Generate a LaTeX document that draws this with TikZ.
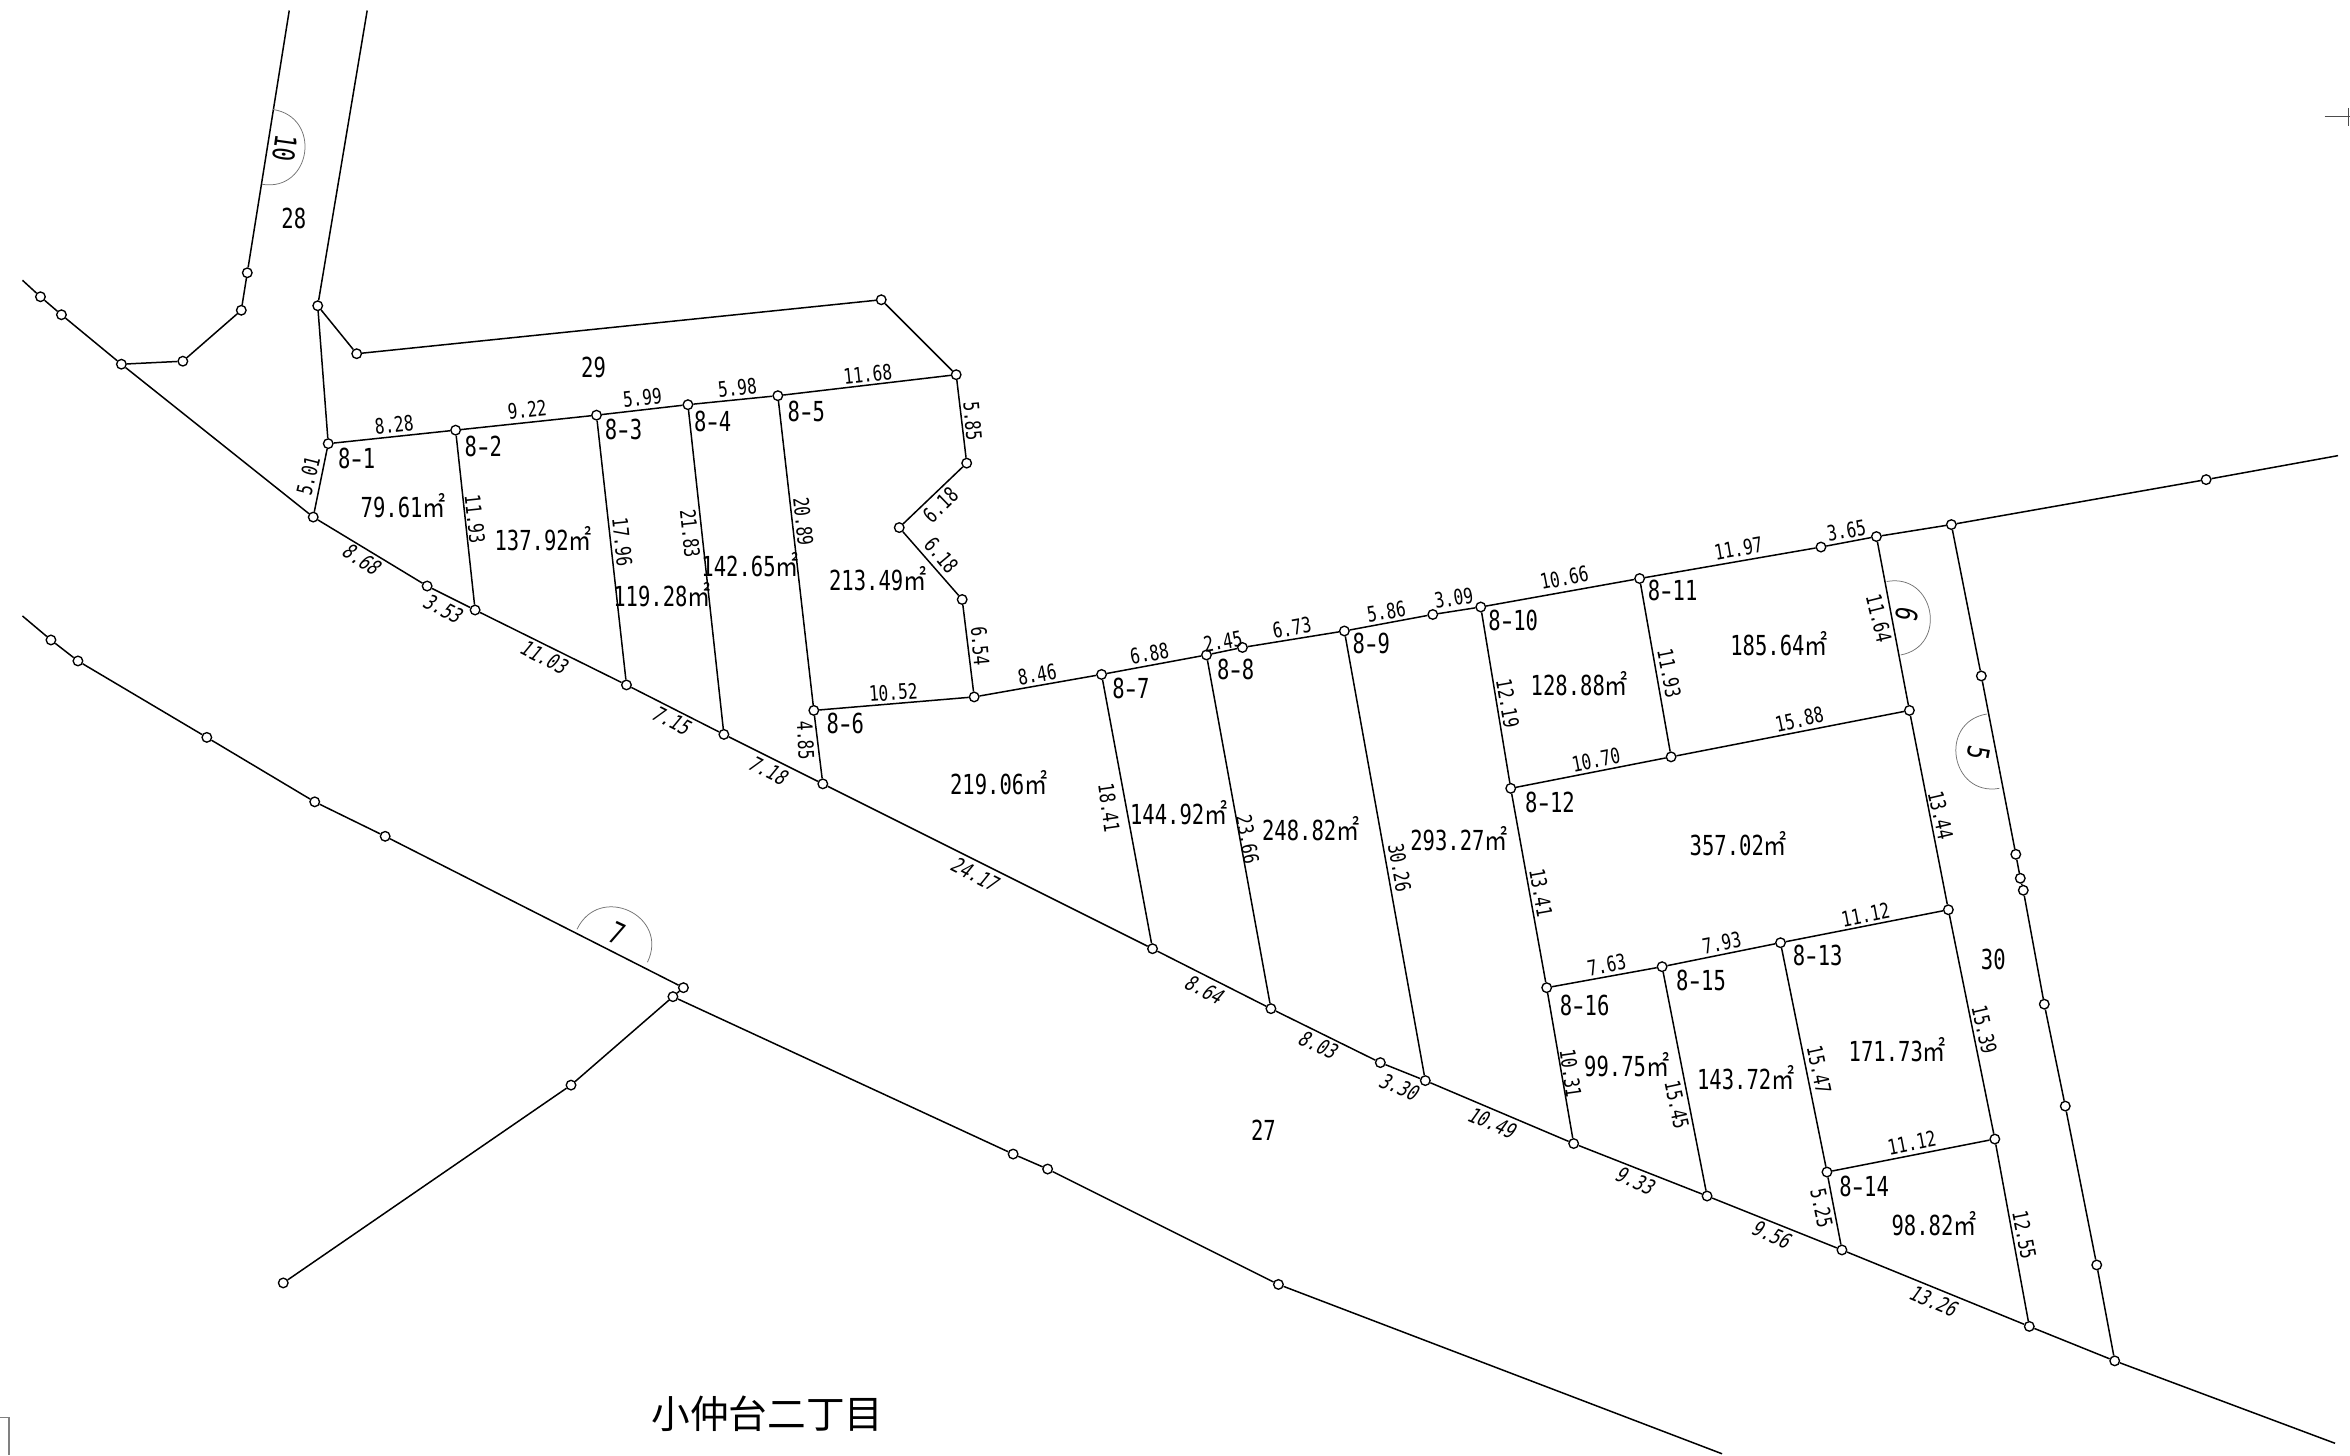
\documentclass[tikz,border=0pt]{standalone}
\usepackage{fontspec}
\setmainfont{DejaVu Sans Mono}
\newfontfamily\dimf[FakeStretch=0.76]{DejaVu Sans Mono}
\newfontfamily\dims[FakeStretch=0.76,FakeSlant=0.22]{DejaVu Sans Mono}
\newfontfamily\areaf[FakeStretch=0.745]{DejaVu Sans Mono}
\newfontfamily\cjkm[FakeStretch=0.84]{Noto Sans CJK JP}
\newfontfamily\cjkt{Noto Sans CJK JP}
\newcounter{lbl}
\newcommand{\pnt}[3]{\node[pnode] (#1) at (#2,#3) {};}
\newcommand{\dlab}[4]{\stepcounter{lbl}\node[dimlabel,rotate=#3] (d\thelbl) at (#1,#2) {#4};}
\newcommand{\slab}[4]{\stepcounter{lbl}\node[slantlabel,rotate=#3] (d\thelbl) at (#1,#2) {#4};}
\newcommand{\alab}[3]{\stepcounter{lbl}\node[arealabel] (d\thelbl) at (#1,#2) {#3{\cjkm\fontsize{9.2}{10}\selectfont ㎡}};}
\newcommand{\llab}[3]{\stepcounter{lbl}\node[lotlabel] (d\thelbl) at (#1,#2) {#3};}
\newcommand{\lotn}[4]{\stepcounter{lbl}\node[lotlabel] (d\thelbl) at (#1,#2) {#3\hspace{-1pt}\scalebox{1.5}[1]{-}\hspace{-1pt}#4};}
\tikzset{
  pnode/.style={circle,draw=black,fill=white,line width=0.45pt,inner sep=0pt,minimum size=3.2pt},
  bound/.style={line width=0.5pt,black},
  thinarc/.style={line width=0.25pt,black!55},
  dimlabel/.style={inner sep=0pt,font=\dimf\fontsize{7.1}{8}\selectfont},
  slantlabel/.style={inner sep=0pt,font=\dims\fontsize{7.1}{8}\selectfont},
  arealabel/.style={inner sep=0pt,font=\areaf\fontsize{9.2}{10}\selectfont},
  lotlabel/.style={inner sep=0pt,font=\areaf\fontsize{9.2}{10}\selectfont},
  roadno/.style={inner sep=0pt,font=\areaf\fontsize{10}{11}\selectfont},
  title/.style={inner sep=0pt,font=\cjkt\fontsize{12.9}{14}\selectfont}
}
\begin{document}
\begin{tikzpicture}[x=0.5pt,y=-0.5pt]
\useasboundingbox (0,0) rectangle (1568,971);
% free ends
\coordinate (ftl) at (193,7);
\coordinate (ftr) at (245,7);
\coordinate (fa) at (15,187);
\coordinate (fb) at (15,411);
\coordinate (fe) at (1558,963);
\coordinate (ff) at (1149,970);
\coordinate (fg) at (1560,304);
% road corners
\pnt{a1}{165}{182}\pnt{a2}{161}{207}\pnt{a3}{122}{241}\pnt{a4}{81}{243}
\pnt{b1}{212}{204}\pnt{b2}{238}{236}\pnt{b3}{588}{200}
\pnt{c1}{27}{198}\pnt{c2}{41}{210}
% lot top line
\pnt{t1}{219}{296}\pnt{t2}{304}{287}\pnt{t3}{398}{277}\pnt{t4}{459}{270}\pnt{t5}{519}{264}\pnt{t6}{638}{250}
\pnt{n1}{645}{309}\pnt{n2}{600}{352}\pnt{n3}{642}{400}\pnt{n4}{650}{465}
\pnt{t7}{735}{450}\pnt{t8}{805}{437}\pnt{t9}{829}{432}\pnt{t10}{897}{421}\pnt{t11}{956}{410}\pnt{t12}{988}{405}
\pnt{t13}{1094}{386}\pnt{t14}{1215}{365}\pnt{t15}{1252}{358}\pnt{t16}{1302}{350}\pnt{t17}{1472}{320}
\pnt{m6}{543}{474}
% lower boundary of lots
\pnt{s1}{209}{345}\pnt{s2}{285}{391}\pnt{s3}{317}{407}\pnt{s4}{418}{457}\pnt{s5}{483}{490}\pnt{s6}{549}{523}
\pnt{s7}{769}{633}\pnt{s8}{848}{673}\pnt{s9}{921}{709}\pnt{s10}{951}{721}\pnt{s11}{1050}{763}\pnt{s12}{1139}{798}
\pnt{s13}{1229}{834}\pnt{s14}{1354}{885}\pnt{s15}{1411}{908}
% second road
\pnt{e1}{34}{427}\pnt{e2}{52}{441}\pnt{e3}{138}{492}\pnt{e4}{210}{535}\pnt{e5}{257}{558}\pnt{e6}{456}{659}
\pnt{e7}{449}{665}\pnt{e8}{381}{724}\pnt{e9}{189}{856}
\pnt{g1}{676}{770}\pnt{g2}{699}{780}\pnt{g3}{853}{857}
% inner points
\pnt{i1}{1008}{526}\pnt{i2}{1115}{505}\pnt{i3}{1274}{474}\pnt{i4}{1300}{607}\pnt{i5}{1331}{760}
\pnt{i6}{1032}{659}\pnt{i7}{1109}{645}\pnt{i8}{1188}{629}\pnt{i9}{1219}{782}
% right line
\pnt{r1}{1322}{451}\pnt{r2}{1345}{570}\pnt{r3}{1348}{586}\pnt{r4}{1350}{594}\pnt{r5}{1364}{670}\pnt{r6}{1378}{738}\pnt{r7}{1399}{844}
% connectors
\draw[bound] (ftl) -- (a1) -- (a2) -- (a3) -- (a4);
\draw[bound] (ftr) -- (b1) -- (b2) -- (b3) -- (t6);
\draw[bound] (b1) -- (t1);
\draw[bound] (fa) -- (c1) -- (c2) -- (a4) -- (s1) -- (s2) -- (s3) -- (s4) -- (s5) -- (s6) -- (s7) -- (s8) -- (s9) -- (s10) -- (s11) -- (s12) -- (s13) -- (s14) -- (s15) -- (fe);
\draw[bound] (fb) -- (e1) -- (e2) -- (e3) -- (e4) -- (e5) -- (e6) -- (e7) -- (e8) -- (e9);
\draw[bound] (e7) -- (g1) -- (g2) -- (g3) -- (ff);
\draw[bound] (s1) -- (t1) -- (t2) -- (t3) -- (t4) -- (t5) -- (t6) -- (n1) -- (n2) -- (n3) -- (n4) -- (t7) -- (t8) -- (t9) -- (t10) -- (t11) -- (t12) -- (t13) -- (t14) -- (t15) -- (t16) -- (t17) -- (fg);
\draw[bound] (t2) -- (s3);
\draw[bound] (t3) -- (s4);
\draw[bound] (t4) -- (s5);
\draw[bound] (t5) -- (m6) -- (s6);
\draw[bound] (m6) -- (n4);
\draw[bound] (t7) -- (s7);
\draw[bound] (t8) -- (s8);
\draw[bound] (t10) -- (s10);
\draw[bound] (t12) -- (i1) -- (i6) -- (s11);
\draw[bound] (t13) -- (i2);
\draw[bound] (i1) -- (i2) -- (i3);
\draw[bound] (t15) -- (i3) -- (i4) -- (i5) -- (s14);
\draw[bound] (i6) -- (i7) -- (i8) -- (i4);
\draw[bound] (i7) -- (s12);
\draw[bound] (i8) -- (i9) -- (s13);
\draw[bound] (i9) -- (i5);
\draw[bound] (t16) -- (r1) -- (r2) -- (r3) -- (r4) -- (r5) -- (r6) -- (r7) -- (s15);
% road-number arcs
\draw[thinarc] (182,73) .. controls (215,78) and (208,128) .. (175,123);
\draw[thinarc] (385,620) .. controls (400,589) and (447,611) .. (432,642);
\draw[thinarc] (1258.8,388) .. controls (1291,382) and (1300,431) .. (1268.2,437);
\draw[thinarc] (1325.6,476.4) .. controls (1293,482) and (1301.5,531.6) .. (1334,526);
% margin marks
\coordinate (k1) at (1551,78);\coordinate (k2) at (1568,78);\coordinate (k3) at (1567,72);\coordinate (k4) at (1567,84);
\draw[line width=0.35pt,black!70] (k1) -- (k2) (k3) -- (k4);
\coordinate (k5) at (0,946);\coordinate (k6) at (6,946);\coordinate (k7) at (6,971);
\draw[line width=0.35pt,black!50] (k5) -- (k6) -- (k7);
% road numbers
\node[roadno,rotate=-98] (rn10) at (190,99) {10};
\node[roadno,rotate=-25] (rn7) at (411.5,623) {7};
\node[roadno,rotate=-103] (rn6) at (1272.2,410.3) {6};
\node[roadno,rotate=-100] (rn5) at (1320,502.6) {5};
\llab{196}{146}{28}\llab{396}{245}{29}\llab{843}{754}{27}\llab{1330}{640}{30}
% lot numbers
\lotn{238}{306}{8}{1}\lotn{322.5}{297.6}{8}{2}\lotn{416}{286.5}{8}{3}\lotn{475.5}{281.4}{8}{4}\lotn{538}{274.5}{8}{5}\lotn{564}{483}{8}{6}
\lotn{754.6}{459.5}{8}{7}\lotn{824.5}{446.6}{8}{8}\lotn{915}{429.5}{8}{9}\lotn{1009.7}{413.7}{8}{10}\lotn{1116}{394.1}{8}{11}\lotn{1034.2}{535.3}{8}{12}
\lotn{1212.8}{637.7}{8}{13}\lotn{1243.8}{791.3}{8}{14}\lotn{1135}{653.9}{8}{15}\lotn{1057.3}{670.6}{8}{16}
% areas
\alab{269}{337.4}{79.61}\alab{362.5}{359.7}{137.92}\alab{441.7}{397}{119.28}\alab{500.5}{377}{142.65}\alab{585.7}{386.4}{213.49}
\alab{666.4}{522}{219.06}\alab{786.5}{542}{144.92}\alab{874.6}{553}{248.82}\alab{973.5}{559.4}{293.27}\alab{1053.8}{456.4}{128.88}
\alab{1187}{429.7}{185.64}\alab{1159.9}{563.1}{357.02}\alab{1266}{700.6}{171.73}\alab{1164.8}{718.8}{143.72}\alab{1085.4}{710.6}{99.75}\alab{1290.5}{816.3}{98.82}
% top dimensions
\dlab{263}{283.6}{6}{8.28}\dlab{351.8}{273.6}{6}{9.22}\dlab{428.6}{265.2}{6}{5.99}\dlab{492}{259}{6}{5.98}\dlab{579}{250}{6}{11.68}
\dlab{596}{462}{4}{10.52}\dlab{692}{450}{10}{8.46}\dlab{767}{436}{10}{6.88}\dlab{816}{428}{10}{2.45}\dlab{862}{419}{10}{6.73}
\dlab{925}{408}{9}{5.86}\dlab{970}{399}{9}{3.09}\dlab{1043.8}{385.4}{11}{10.66}\dlab{1159.9}{366}{10}{11.97}\dlab{1232}{354}{10}{3.65}
\dlab{1200.6}{480}{12}{15.88}\dlab{1064.9}{507.1}{11}{10.70}\dlab{1244.8}{610.5}{11}{11.12}\dlab{1148.8}{629}{11}{7.93}\dlab{1072}{643.9}{11}{7.63}\dlab{1275.6}{762.4}{11}{11.12}
% side dimensions
\dlab{205.7}{317.4}{76}{5.01}\dlab{316.9}{346.4}{-84}{11.93}\dlab{415.2}{361.5}{-84}{17.96}\dlab{460.4}{355.9}{-84}{21.83}\dlab{536}{348}{-84}{20.89}
\dlab{649}{281}{-85}{5.85}\dlab{627.6}{337}{44}{6.18}\dlab{628}{370.5}{-50}{6.18}\dlab{654}{431}{-85}{6.54}\dlab{537.5}{494}{-87}{4.85}
\dlab{740}{539}{-82}{18.41}\dlab{832.5}{560}{-80}{23.66}\dlab{934}{579}{-80}{30.26}\dlab{1006}{469.3}{-80}{12.19}\dlab{1113.8}{449.3}{-79}{11.93}
\dlab{1253.7}{412.6}{-76}{11.64}\dlab{1294.9}{543.8}{-77}{13.44}\dlab{1028.2}{595.6}{-80}{13.41}\dlab{1048}{716}{-82}{10.31}\dlab{1118.8}{737.3}{-78}{15.45}
\dlab{1213.7}{713.9}{-78}{15.47}\dlab{1324}{687.2}{-77}{15.39}\dlab{1350.7}{824}{-79}{12.55}\dlab{1215.5}{806.2}{-78}{5.25}
% lower dimensions
\slab{240.8}{373}{-33}{8.68}\slab{295.1}{406}{-27}{3.53}\slab{362.5}{438.2}{-27}{11.03}\slab{447.5}{480.5}{-27}{7.15}\slab{512}{513.8}{-27}{7.18}
\slab{650}{583}{-27}{24.17}\slab{803}{660}{-27}{8.64}\slab{879}{697}{-25}{8.03}\slab{933}{725}{-23}{3.30}\slab{995}{749}{-23}{10.49}
\slab{1090.5}{787.3}{-24}{9.33}\slab{1181.5}{823.6}{-23}{9.56}\slab{1289.6}{868}{-23}{13.26}
% title
\node[title] (ttl) at (512,943) {小仲台二丁目};
\end{tikzpicture}
\end{document}
